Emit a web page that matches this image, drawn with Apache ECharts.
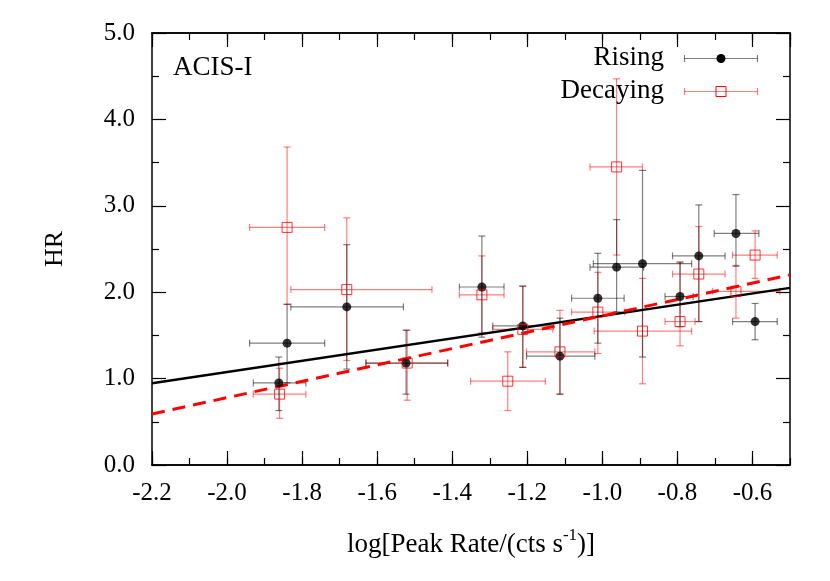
<!DOCTYPE html>
<html>
<head>
<meta charset="utf-8">
<script src="https://cdn.jsdelivr.net/npm/echarts@6/dist/echarts.min.js"></script>
<style>html,body{margin:0;padding:0;background:#fff}#c{width:830px;height:581px}</style>
</head>
<body>
<div id="c"></div>
<script>
// ---- Data ----
const risingX   = [-1.862, -1.840, -1.681, -1.523, -1.321, -1.212, -1.113, -1.012, -0.962, -0.893, -0.793, -0.743, -0.644, -0.593];
const risingY   = [0.95, 1.41, 1.83, 1.18, 2.06, 1.61, 1.26, 1.93, 2.29, 2.33, 1.95, 2.42, 2.68, 1.66];
const risingXlo = [-1.93, -1.94, -1.83, -1.63, -1.381, -1.292, -1.202, -1.082, -1.033, -1.024, -0.833, -0.813, -0.702, -0.653];
const risingXhi = [-1.79, -1.74, -1.53, -1.412, -1.262, -1.13, -1.02, -0.942, -0.89, -0.762, -0.758, -0.673, -0.583, -0.534];
const risingYlo = [0.63, 0.95, 1.11, 0.82, 1.48, 1.13, 0.82, 1.41, 1.77, 1.25, 1.60, 1.66, 2.30, 1.45];
const risingYhi = [1.25, 1.86, 2.55, 1.56, 2.65, 2.07, 1.70, 2.45, 2.84, 3.41, 2.35, 3.01, 3.13, 1.87];

const decayX   = [-1.86, -1.84, -1.681, -1.52, -1.321, -1.252, -1.212, -1.113, -1.012, -0.962, -0.893, -0.793, -0.743, -0.644, -0.593];
const decayY   = [0.82, 2.75, 2.03, 1.18, 1.97, 0.97, 1.57, 1.31, 1.77, 3.45, 1.55, 1.66, 2.21, 2.01, 2.43];
const decayXlo = [-1.93, -1.94, -1.83, -1.63, -1.381, -1.351, -1.292, -1.202, -1.082, -1.033, -1.022, -0.833, -0.813, -0.706, -0.653];
const decayXhi = [-1.79, -1.74, -1.454, -1.412, -1.262, -1.152, -1.132, -1.02, -0.94, -0.893, -0.762, -0.753, -0.673, -0.527, -0.534];
const decayYlo = [0.54, 1.86, 1.21, 0.75, 1.53, 0.63, 1.13, 0.82, 1.29, 2.43, 0.94, 1.38, 1.66, 1.70, 2.16];
const decayYhi = [1.12, 3.68, 2.86, 1.56, 2.42, 1.31, 2.07, 1.79, 2.23, 4.47, 2.16, 2.34, 2.76, 2.31, 2.71];

const fitRising   = [[-2.2, 0.945], [-0.5, 2.05]];
const fitDecaying = [[-2.2, 0.59], [-0.5, 2.20]];

const seriesNames = ['Rising', 'Decaying'];
const panelLabel = 'ACIS-I';
const xName = 'log[Peak Rate/(cts s{sup|-1})]';
const yName = 'HR';

// ---- Build ----
const FONT = '"Liberation Serif", "DejaVu Serif", serif';
const zip = (x, y, xl, xh, yl, yh) => x.map((v, i) => [v, y[i], xl[i], xh[i], yl[i], yh[i]]);
const risingData = zip(risingX, risingY, risingXlo, risingXhi, risingYlo, risingYhi);
const decayData  = zip(decayX, decayY, decayXlo, decayXhi, decayYlo, decayYhi);

function errRender(color) {
  return function (params, api) {
    const x = api.value(0), y = api.value(1);
    const pL = api.coord([api.value(2), y]), pR = api.coord([api.value(3), y]);
    const pB = api.coord([x, api.value(4)]), pT = api.coord([x, api.value(5)]);
    const c = 3.5;
    const st = { stroke: color, lineWidth: 1.2 };
    const ln = (x1, y1, x2, y2) => ({ type: 'line', shape: { x1, y1, x2, y2 }, style: st });
    return {
      type: 'group',
      children: [
        ln(pL[0], pL[1], pR[0], pR[1]),
        ln(pL[0], pL[1] - c, pL[0], pL[1] + c),
        ln(pR[0], pR[1] - c, pR[0], pR[1] + c),
        ln(pB[0], pB[1], pT[0], pT[1]),
        ln(pB[0] - c, pB[1], pB[0] + c, pB[1]),
        ln(pT[0] - c, pT[1], pT[0] + c, pT[1])
      ]
    };
  };
}

const axLine = { show: true, lineStyle: { color: '#000', width: 1.5 } };
const tickSt = { color: '#000', width: 1.2 };

function xAx(pos, interval, len, labels) {
  return {
    type: 'value', position: pos, min: -2.2, max: -0.5, interval: interval,
    axisLine: axLine, splitLine: { show: false },
    axisTick: { show: true, inside: true, length: len, lineStyle: tickSt },
    axisLabel: labels ? {
      show: true, margin: 16, fontFamily: FONT, fontSize: 25, color: '#000',
      showMaxLabel: false,
      formatter: v => (Math.abs(v + 0.5) < 1e-6 ? '' : v.toFixed(1))
    } : { show: false },
    name: labels ? xName : '',
    nameLocation: 'middle', nameGap: 62,
    nameTextStyle: {
      fontFamily: FONT, fontSize: 27, color: '#000',
      rich: { sup: { fontFamily: FONT, fontSize: 17, color: '#000', verticalAlign: 'bottom', padding: [0, 0, 19, 0] } }
    }
  };
}
function yAx(pos, labels) {
  return {
    type: 'value', position: pos, min: 0, max: 5, interval: 1,
    axisLine: axLine, splitLine: { show: false },
    axisTick: { show: true, inside: true, length: 14, lineStyle: tickSt },
    minorTick: { show: true, splitNumber: 2, length: 7, lineStyle: tickSt },
    axisLabel: labels ? { show: true, margin: 17, fontFamily: FONT, fontSize: 25, color: '#000', formatter: v => v.toFixed(1) } : { show: false },
    name: labels ? yName : '', nameLocation: 'middle', nameGap: 84,
    nameTextStyle: { fontFamily: FONT, fontSize: 26, color: '#000' }
  };
}

const chart = echarts.init(document.getElementById('c'), null, { renderer: 'canvas' });
chart.setOption({
  backgroundColor: '#fff',
  animation: false,
  grid: { left: 152, right: 40, top: 33, bottom: 116, containLabel: false },
  xAxis: [xAx('bottom', 0.2, 14, true), xAx('bottom', 0.1, 7, false), xAx('top', 0.2, 14, false), xAx('top', 0.1, 7, false)],
  yAxis: [yAx('left', true), yAx('right', false)],
  series: [
    { type: 'custom', name: seriesNames[1] + ' err', xAxisIndex: 0, yAxisIndex: 0, renderItem: errRender('rgba(255,0,0,0.5)'),
      encode: { x: [0, 2, 3], y: [1, 4, 5] }, data: decayData, z: 1 },
    { type: 'custom', name: seriesNames[0] + ' err', xAxisIndex: 0, yAxisIndex: 0, renderItem: errRender('rgba(0,0,0,0.5)'),
      encode: { x: [0, 2, 3], y: [1, 4, 5] }, data: risingData, z: 1 },
    { type: 'line', name: 'fitR', data: fitRising, symbol: 'none', lineStyle: { color: '#000', width: 2.5 }, z: 2, silent: true },
    { type: 'line', name: 'fitD', data: fitDecaying, symbol: 'none', lineStyle: { color: '#ff0000', width: 3, type: [13, 8] }, z: 2, silent: true },
    { type: 'scatter', name: seriesNames[0], data: risingData.map(d => [d[0], d[1]]), symbol: 'circle', symbolSize: 9,
      itemStyle: { color: '#000' }, z: 3 },
    { type: 'scatter', name: seriesNames[1], data: decayData.map(d => [d[0], d[1]]), symbol: 'rect', symbolSize: 10,
      itemStyle: { color: 'rgba(0,0,0,0)', borderColor: '#ff0000', borderWidth: 1 }, z: 3 }
  ],
  graphic: [
    { type: 'text', left: 173, top: 54, style: { text: panelLabel, font: '27px ' + FONT, fill: '#000' } },
    { type: 'text', right: 830 - 664, top: 44, style: { text: seriesNames[0], font: '27px ' + FONT, fill: '#000' } },
    { type: 'text', right: 830 - 664, top: 77, style: { text: seriesNames[1], font: '27px ' + FONT, fill: '#000' } },
    { type: 'group', left: 682, top: 52.5, children: [
      { type: 'line', shape: { x1: 0, y1: 3.5, x2: 73, y2: 3.5 }, style: { stroke: 'rgba(0,0,0,0.5)', lineWidth: 1.2 } },
      { type: 'line', shape: { x1: 0, y1: 0, x2: 0, y2: 7 }, style: { stroke: 'rgba(0,0,0,0.5)', lineWidth: 1.2 } },
      { type: 'line', shape: { x1: 73, y1: 0, x2: 73, y2: 7 }, style: { stroke: 'rgba(0,0,0,0.5)', lineWidth: 1.2 } },
      { type: 'circle', shape: { cx: 36.5, cy: 3.5, r: 4.5 }, style: { fill: '#000' } }
    ]},
    { type: 'group', left: 682, top: 85.5, children: [
      { type: 'line', shape: { x1: 0, y1: 5, x2: 73, y2: 5 }, style: { stroke: 'rgba(255,0,0,0.5)', lineWidth: 1.2 } },
      { type: 'line', shape: { x1: 0, y1: 1.5, x2: 0, y2: 8.5 }, style: { stroke: 'rgba(255,0,0,0.5)', lineWidth: 1.2 } },
      { type: 'line', shape: { x1: 73, y1: 1.5, x2: 73, y2: 8.5 }, style: { stroke: 'rgba(255,0,0,0.5)', lineWidth: 1.2 } },
      { type: 'rect', shape: { x: 31.5, y: 0, width: 10, height: 10 }, style: { fill: 'rgba(0,0,0,0)', stroke: '#ff0000', lineWidth: 1 } }
    ]}
  ]
});
</script>
</body>
</html>
